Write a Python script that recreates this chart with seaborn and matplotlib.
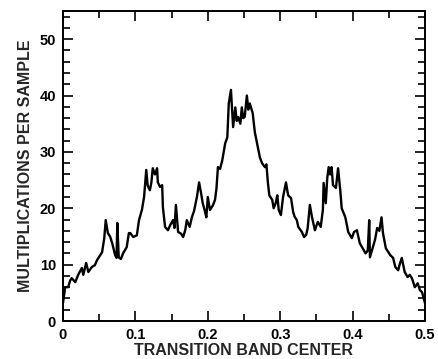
import matplotlib
matplotlib.use("Agg")
import matplotlib.pyplot as plt
import seaborn as sns
import pandas as pd
from matplotlib.ticker import MultipleLocator

band_center = [
    0.000, 0.003, 0.007, 0.010, 0.012, 0.017, 0.021, 0.026, 0.028, 0.032,
    0.035, 0.040, 0.044, 0.047, 0.049, 0.054, 0.057, 0.059, 0.062, 0.065,
    0.068, 0.072, 0.074, 0.075, 0.077, 0.080, 0.083, 0.088, 0.091, 0.093,
    0.097, 0.102, 0.105, 0.109, 0.112, 0.115, 0.117, 0.120, 0.122, 0.124,
    0.127, 0.130, 0.131, 0.134, 0.137, 0.138, 0.141, 0.145, 0.148, 0.152,
    0.154, 0.156, 0.159, 0.163, 0.166, 0.169, 0.171, 0.175, 0.178, 0.181,
    0.185, 0.188, 0.191, 0.193, 0.196, 0.198, 0.200, 0.203, 0.207, 0.210,
    0.212, 0.214, 0.217, 0.220, 0.224, 0.227, 0.229, 0.232, 0.235, 0.238,
    0.240, 0.242, 0.245, 0.247, 0.249, 0.251, 0.254, 0.256, 0.258, 0.262,
    0.265, 0.269, 0.272, 0.275, 0.279, 0.281, 0.283, 0.285, 0.289, 0.291,
    0.294, 0.296, 0.298, 0.301, 0.304, 0.308, 0.311, 0.315, 0.318, 0.320,
    0.323, 0.325, 0.330, 0.333, 0.336, 0.338, 0.341, 0.344, 0.348, 0.352,
    0.356, 0.359, 0.360, 0.363, 0.365, 0.367, 0.369, 0.371, 0.373, 0.377,
    0.380, 0.383, 0.385, 0.390, 0.394, 0.399, 0.402, 0.406, 0.410, 0.414,
    0.418, 0.421, 0.423, 0.424, 0.428, 0.431, 0.434, 0.437, 0.440, 0.442,
    0.446, 0.452, 0.456, 0.459, 0.463, 0.465, 0.468, 0.472, 0.476, 0.479,
    0.482, 0.486, 0.490, 0.493, 0.496, 0.500,
]
mults_per_sample = [
    3.2, 6.0, 6.0, 7.2, 7.6, 6.9, 8.2, 9.4, 8.2, 10.3,
    8.7, 9.6, 9.9, 10.8, 11.2, 12.2, 14.7, 17.9, 15.6, 15.0,
    13.8, 11.7, 11.2, 17.4, 11.3, 11.0, 12.0, 13.1, 15.6, 15.6,
    14.9, 15.2, 17.9, 19.7, 22.0, 26.8, 24.0, 23.2, 24.5, 27.1,
    26.0, 27.1, 24.6, 23.8, 24.1, 20.2, 16.7, 16.1, 17.0, 17.9,
    16.5, 20.6, 15.8, 15.5, 14.9, 16.2, 17.9, 16.7, 18.4, 19.5,
    22.0, 24.6, 22.5, 20.9, 19.5, 18.4, 22.0, 19.7, 20.5, 21.5,
    23.5, 27.3, 27.0, 28.5, 31.5, 32.6, 38.6, 41.0, 34.4, 37.9,
    35.5, 36.2, 35.0, 37.9, 36.0, 36.2, 40.0, 37.5, 38.6, 36.9,
    33.5, 30.9, 29.0, 28.0, 27.3, 27.8, 24.6, 22.3, 21.5, 20.0,
    21.0, 22.3, 19.7, 18.8, 22.0, 24.6, 22.3, 21.8, 19.3, 18.5,
    17.9, 16.7, 15.8, 14.9, 15.3, 16.5, 20.6, 18.4, 16.1, 17.6,
    16.7, 19.7, 24.5, 20.9, 25.3, 27.3, 26.0, 27.3, 24.1, 23.6,
    27.1, 23.2, 20.0, 18.4, 15.8, 14.7, 15.8, 16.1, 13.8, 12.9,
    12.0, 12.5, 17.9, 11.3, 13.1, 14.4, 16.5, 16.0, 18.4, 15.6,
    12.9, 11.7, 11.2, 9.6, 9.0, 10.0, 11.2, 8.7, 7.8, 8.2,
    7.6, 6.0, 6.7, 5.5, 5.1, 3.2,
]
x_ticks = [0, 0.1, 0.2, 0.3, 0.4, 0.5]
x_tick_labels = ["0", "0.1", "0.2", "0.3", "0.4", "0.5"]
y_ticks = [0, 10, 20, 30, 40, 50]

sns.set_style("ticks")
plt.rcParams["font.family"] = ["Liberation Sans", "DejaVu Sans"]

df = pd.DataFrame({"x": band_center, "y": mults_per_sample})

fig = plt.figure(figsize=(4.39, 3.59), dpi=100)
ax = fig.add_axes([0.1435, 0.1058, 0.8245, 0.8636])
sns.lineplot(data=df, x="x", y="y", ax=ax, color="black", linewidth=1.7,
             estimator=None, sort=False)

ax.set_xlim(0, 0.5)
ax.set_ylim(0, 55)
ax.set_xticks(x_ticks)
ax.set_xticklabels(x_tick_labels)
ax.set_yticks(y_ticks)
ax.xaxis.set_minor_locator(MultipleLocator(0.05))
ax.yaxis.set_minor_locator(MultipleLocator(2))
ax.tick_params(which="both", direction="in", top=True, right=True,
               width=1.2, colors="black")
ax.tick_params(which="major", length=7, labelsize=10.5, pad=5)
ax.tick_params(which="minor", length=5)
for lab in ax.get_xticklabels() + ax.get_yticklabels():
    lab.set_fontweight("bold")
for sp in ax.spines.values():
    sp.set_linewidth(1.4)
    sp.set_color("black")

ax.set_xlabel("TRANSITION BAND CENTER", fontsize=11.5, fontweight="bold", labelpad=1)
ax.set_ylabel("MULTIPLICATIONS PER SAMPLE", fontsize=11.5, fontweight="bold", labelpad=5)

fig.savefig("out.png", dpi=100)
